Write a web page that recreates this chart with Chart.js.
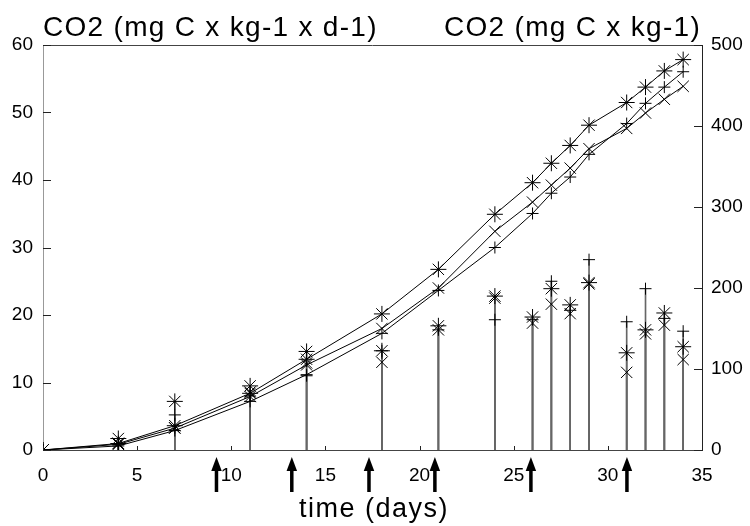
<!DOCTYPE html>
<html>
<head>
<meta charset="utf-8">
<script src="https://cdn.jsdelivr.net/npm/chart.js@4"></script>
<style>
  body { margin: 0; background: #fff; }
  #wrap { width: 750px; height: 526px; }
</style>
</head>
<body>
<div id="wrap"><canvas id="co2" width="750" height="526"></canvas></div>
<script>
// sampling days
const days = [0, 4, 7, 11, 14, 18, 21, 24, 26, 27, 28, 29, 31, 32, 33, 34];

// cumulative CO2 (right axis, mg C x kg-1)
const cumStar  = [0, 8, 30, 70, 112, 168, 223, 291, 330, 354, 376, 401, 429, 448, 468, 482];
const cumCross = [0, 7, 27, 66, 105, 150, 200, 270, 306, 327, 348, 372, 397, 416, 433, 449];
const cumPlus  = [0, 5, 24, 60, 93, 144, 197, 250, 292, 317, 337, 365, 403, 428, 448, 467];

// daily rate (left axis, mg C x kg-1 x d-1)
const rateStar  = [0, 1.7, 7.2, 9.5, 14.6, 14.7, 18.4, 22.8, 19.7, 23.9, 21.5, 24.8, 14.4, 17.8, 20.3, 15.3];
const rateCross = [0, 1.0, 3.3, 8.6, 12.9, 13.0, 17.8, 22.5, 18.8, 21.6, 20.2, 24.6, 11.5, 17.2, 18.5, 13.4];
const ratePlus  = [0, 0.8, 5.2, 8.0, 11.0, 14.7, 17.8, 19.3, 19.3, 25.0, 20.7, 28.2, 19.0, 23.9, 19.5, 17.6];

// amendment arrows under the time axis
const arrowDays = [9.2, 13.2, 17.3, 20.8, 25.9, 31.0];

const leftTitle = 'CO2 (mg C x kg-1 x d-1)';
const rightTitle = 'CO2 (mg C x kg-1)';
const xTitle = 'time (days)';

const pts = vals => days.map((d, i) => ({ x: d, y: vals[i] }));

Chart.defaults.font.family = '"Liberation Sans", Arial, sans-serif';
Chart.defaults.color = '#000';

function barSet(vals) {
    return {
        type: 'bar', data: pts(vals), yAxisID: 'y',
        backgroundColor: '#666', barThickness: 1, grouped: false, order: 5
    };
}
function markSet(vals, style, r, axis) {
    return {
        type: 'line', data: pts(vals), yAxisID: axis,
        showLine: axis === 'y1', borderColor: '#000', borderWidth: 1,
        pointStyle: style, pointRadius: r, pointBorderColor: '#000',
        pointBorderWidth: 1, tension: 0, fill: false, order: 1
    };
}

const decor = {
    id: 'decor',
    afterDraw(chart) {
        const ctx = chart.ctx;
        const a = chart.chartArea;
        const x = chart.scales.x, y = chart.scales.y, y1 = chart.scales.y1;
        ctx.save();
        // top frame line
        ctx.strokeStyle = '#444';
        ctx.lineWidth = 1;
        ctx.beginPath();
        ctx.moveTo(a.left, a.top + 0.5);
        ctx.lineTo(a.right, a.top + 0.5);
        ctx.stroke();

        // inward tick marks
        ctx.strokeStyle = '#222';
        ctx.beginPath();
        y.ticks.forEach(t => {
            const py = Math.round(y.getPixelForValue(t.value)) + 0.5;
            ctx.moveTo(a.left, py); ctx.lineTo(a.left + 8, py);
        });
        y1.ticks.forEach(t => {
            const py = Math.round(y1.getPixelForValue(t.value)) + 0.5;
            ctx.moveTo(a.right, py); ctx.lineTo(a.right - 8, py);
        });
        x.ticks.forEach(t => {
            const px = Math.round(x.getPixelForValue(t.value)) + 0.5;
            ctx.moveTo(px, a.bottom); ctx.lineTo(px, a.bottom - 4);
        });
        ctx.stroke();

        // arrows
        ctx.fillStyle = '#000';
        arrowDays.forEach(d => {
            const px = x.getPixelForValue(d);
            ctx.fillRect(px - 1.5, a.bottom + 18, 3.5, 24);
            ctx.beginPath();
            ctx.moveTo(px + 0.25, a.bottom + 7);
            ctx.lineTo(px - 5, a.bottom + 21);
            ctx.lineTo(px + 5.5, a.bottom + 21);
            ctx.closePath();
            ctx.fill();
        });

        // titles
        ctx.fillStyle = '#000';
        ctx.textBaseline = 'alphabetic';
        ctx.font = '28px "Liberation Sans", Arial, sans-serif';
        ctx.letterSpacing = '1.3px';
        ctx.textAlign = 'left';
        ctx.fillText(leftTitle, 43, 36);
        ctx.fillText(rightTitle, 444, 36);
        ctx.font = '27px "Liberation Sans", Arial, sans-serif';
        ctx.letterSpacing = '1.5px';
        ctx.textAlign = 'center';
        ctx.fillText(xTitle, 374, 517);
        ctx.restore();
    }
};

new Chart(document.getElementById('co2'), {
    data: {
        datasets: [
            barSet(rateStar), barSet(rateCross), barSet(ratePlus),
            markSet(rateStar, 'star', 8, 'y'),
            markSet(rateCross, 'crossRot', 8, 'y'),
            markSet(ratePlus, 'cross', 6, 'y'),
            markSet(cumStar, 'star', 8, 'y1'),
            markSet(cumCross, 'crossRot', 8, 'y1'),
            markSet(cumPlus, 'cross', 6, 'y1')
        ]
    },
    options: {
        responsive: false,
        animation: false,
        layout: { padding: { top: 45, left: 0, right: 0, bottom: 0 } },
        plugins: { legend: { display: false }, tooltip: { enabled: false } },
        scales: {
            x: {
                type: 'linear', min: 0, max: 35, offset: false,
                ticks: { stepSize: 5, font: { size: 19 }, padding: 14, maxRotation: 0 },
                grid: { display: false, drawTicks: false, offset: false },
                border: { display: true, color: '#444', width: 1 },
                afterFit: s => { s.height = 76; }
            },
            y: {
                position: 'left', min: 0, max: 60,
                ticks: { stepSize: 10, font: { size: 19 }, padding: 10 },
                grid: { display: false, drawTicks: false },
                border: { display: true, color: '#999', width: 1, dash: [2, 2] },
                afterFit: s => { s.width = 43; }
            },
            y1: {
                position: 'right', min: 0, max: 500,
                ticks: { stepSize: 100, font: { size: 19 }, padding: 9 },
                grid: { display: false, drawTicks: false },
                border: { display: true, color: '#222', width: 1 },
                afterFit: s => { s.width = 48; }
            }
        }
    },
    plugins: [decor]
});
</script>
</body>
</html>
